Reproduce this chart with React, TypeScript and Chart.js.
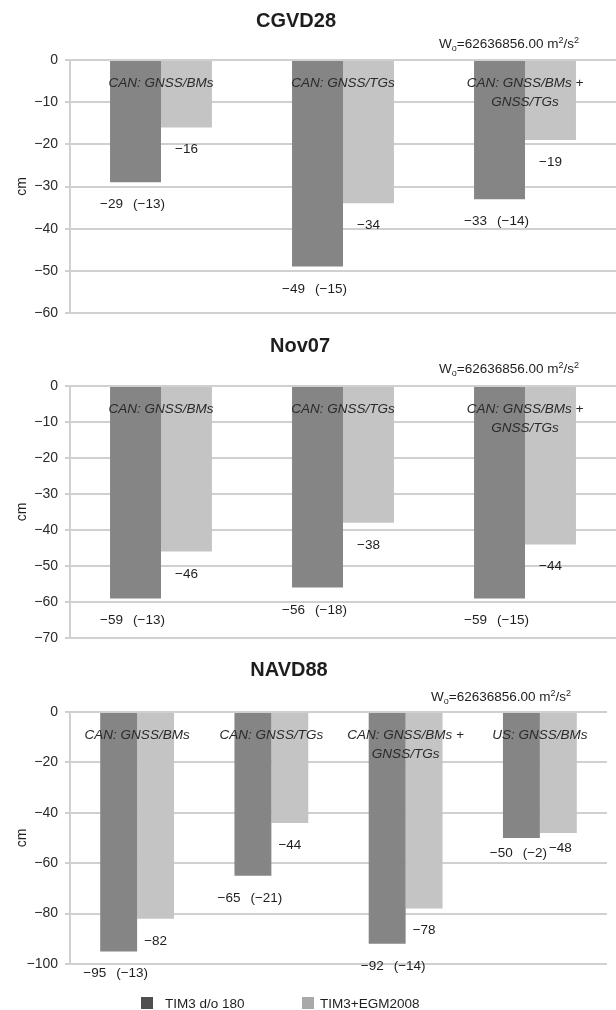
import { useEffect, useRef } from "react";
import { Chart, registerables } from "chart.js";

Chart.register(...registerables);

// ---------- DATA ----------
const seriesNames = ["TIM3 d/o 180", "TIM3+EGM2008"];
const seriesColors = ["#858585", "#c4c4c4"];
const legendColors = ["#4f4f4f", "#a9a9a9"];
const potentialValue = "62636856.00";

const canadaCategories = [["CAN: GNSS/BMs"], ["CAN: GNSS/TGs"], ["CAN: GNSS/BMs +", "GNSS/TGs"]];

const cgvdTitle = "CGVD28";
const cgvdTim3 = [-29, -49, -33];
const cgvdTim3Paren = [-13, -15, -14];
const cgvdEgm = [-16, -34, -19];
const cgvdAxis = { min: -60, max: 0, step: 10 };

const novTitle = "Nov07";
const novTim3 = [-59, -56, -59];
const novTim3Paren = [-13, -18, -15];
const novEgm = [-46, -38, -44];
const novAxis = { min: -70, max: 0, step: 10 };

const navdTitle = "NAVD88";
const navdCategories = [["CAN: GNSS/BMs"], ["CAN: GNSS/TGs"], ["CAN: GNSS/BMs +", "GNSS/TGs"], ["US: GNSS/BMs"]];
const navdTim3 = [-95, -65, -92, -50];
const navdTim3Paren = [-13, -21, -14, -2];
const navdEgm = [-82, -44, -78, -48];
const navdAxis = { min: -100, max: 0, step: 20 };

// ---------- HELPERS ----------
const FONT = "'Liberation Sans', Arial, Helvetica, sans-serif";
const TEXT = "#1e1e1e";
const fmt = (v: number) => (v < 0 ? "\u2212" + Math.abs(v) : String(v));

type PanelCfg = {
  title: string;
  titleX: number;
  titleY: number;
  wY: number;
  wRightInset: number;
  categories: string[][];
  tim3: number[];
  paren: number[];
  egm: number[];
  axis: { min: number; max: number; step: number };
  width: number;
  height: number;
  padding: { top: number; bottom: number; left: number; right: number };
  catPct: number;
  nudges: Record<string, [number, number]>;
  legendY?: number;
};

function makePlugin(cfg: PanelCfg) {
  return {
    id: "panelText",
    afterDatasetsDraw(chart: any) {
      const ctx = chart.ctx as CanvasRenderingContext2D;
      const area = chart.chartArea;
      const xs = chart.scales.x;
      ctx.save();
      ctx.fillStyle = TEXT;

      // title
      ctx.font = `bold 20px ${FONT}`;
      ctx.textAlign = "center";
      ctx.textBaseline = "alphabetic";
      ctx.fillText(cfg.title, cfg.titleX, cfg.titleY + 7.2);

      // W_o annotation
      const big = `13.5px ${FONT}`;
      const small = `9px ${FONT}`;
      const parts: [string, string, number][] = [
        ["W", big, 0],
        ["o", small, 3],
        ["=" + potentialValue + " m", big, 0],
        ["2", small, -5],
        ["/s", big, 0],
        ["2", small, -5],
      ];
      let total = 0;
      const widths = parts.map(([t, f]) => {
        ctx.font = f;
        const w = ctx.measureText(t).width;
        total += w;
        return w;
      });
      let x = area.right - cfg.wRightInset - total;
      const base = cfg.wY + 4.8;
      ctx.textAlign = "left";
      parts.forEach(([t, f, dy], i) => {
        ctx.font = f;
        ctx.fillText(t, x, base + dy);
        x += widths[i];
      });

      // category labels inside the plot
      ctx.font = `italic 13.5px ${FONT}`;
      ctx.fillStyle = "#2a2a2a";
      ctx.textAlign = "center";
      cfg.categories.forEach((lines, i) => {
        const cx = xs.getPixelForValue(i);
        lines.forEach((line, k) => {
          ctx.fillText(line, cx, area.top + 22 + k * 19 + 4.9);
        });
      });

      // value labels
      ctx.fillStyle = TEXT;
      ctx.font = `13.5px ${FONT}`;
      const m0 = chart.getDatasetMeta(0);
      const m1 = chart.getDatasetMeta(1);
      m0.data.forEach((el: any, i: number) => {
        const [dx, dy] = cfg.nudges[`0-${i}`] || [0, 0];
        const a = fmt(cfg.tim3[i]);
        const b = "(" + fmt(cfg.paren[i]) + ")";
        const wa = ctx.measureText(a).width;
        const wb = ctx.measureText(b).width;
        const gap = 10;
        const tot = wa + gap + wb;
        const sx = el.x - 3 + dx - tot / 2;
        const y = el.y + 21 + dy + 4.9;
        ctx.textAlign = "left";
        ctx.fillText(a, sx, y);
        ctx.fillText(b, sx + wa + gap, y);
      });
      m1.data.forEach((el: any, i: number) => {
        const [dx, dy] = cfg.nudges[`1-${i}`] || [0, 0];
        ctx.textAlign = "center";
        ctx.fillText(fmt(cfg.egm[i]), el.x + dx, el.y + 21 + dy + 4.9);
      });

      // legend
      if (cfg.legendY !== undefined) {
        const boxX = [141, 302];
        const textX = [165, 320];
        ctx.font = `13.5px ${FONT}`;
        ctx.textAlign = "left";
        seriesNames.forEach((name, i) => {
          ctx.fillStyle = legendColors[i];
          ctx.fillRect(boxX[i], cfg.legendY! - 6, 12, 12);
          ctx.fillStyle = TEXT;
          ctx.fillText(name, textX[i], cfg.legendY! + 4.9);
        });
      }
      ctx.restore();
    },
  };
}

function Panel({ cfg, top }: { cfg: PanelCfg; top: number }) {
  const ref = useRef<HTMLCanvasElement | null>(null);
  useEffect(() => {
    if (!ref.current) return;
    const chart = new Chart(ref.current, {
      type: "bar",
      data: {
        labels: cfg.categories.map((c) => c.join(" ")),
        datasets: [
          {
            label: seriesNames[0],
            data: cfg.tim3,
            backgroundColor: seriesColors[0],
            borderWidth: 0,
            barPercentage: 1,
            categoryPercentage: cfg.catPct,
          },
          {
            label: seriesNames[1],
            data: cfg.egm,
            backgroundColor: seriesColors[1],
            borderWidth: 0,
            barPercentage: 1,
            categoryPercentage: cfg.catPct,
          },
        ],
      },
      options: {
        responsive: false,
        animation: false,
        devicePixelRatio: 1,
        layout: { padding: cfg.padding },
        plugins: {
          legend: { display: false },
          title: { display: false },
          tooltip: { enabled: false },
        },
        scales: {
          x: { display: false },
          y: {
            min: cfg.axis.min,
            max: cfg.axis.max,
            afterFit: (scale: any) => {
              scale.width = 70;
            },
            ticks: {
              stepSize: cfg.axis.step,
              padding: 7,
              color: "#2a2a2a",
              font: { family: FONT, size: 14 },
              callback: (v: any) => fmt(Number(v)),
            },
            grid: {
              color: "#d0d0d0",
              lineWidth: 2,
              tickLength: 5,
              drawTicks: true,
            },
            border: { display: true, color: "#d0d0d0", width: 2 },
            title: {
              display: true,
              text: "cm",
              color: TEXT,
              font: { family: FONT, size: 14 },
              padding: { top: 14, bottom: 0 },
            },
          },
        },
      } as any,
      plugins: [makePlugin(cfg)],
    });
    return () => chart.destroy();
  }, [cfg]);
  return (
    <div style={{ position: "absolute", left: 0, top, width: cfg.width, height: cfg.height }}>
      <canvas ref={ref} width={cfg.width} height={cfg.height} style={{ display: "block" }} />
    </div>
  );
}

const cgvdCfg: PanelCfg = {
  title: cgvdTitle,
  titleX: 296,
  titleY: 20,
  wY: 43,
  wRightInset: 37,
  categories: canadaCategories,
  tim3: cgvdTim3,
  paren: cgvdTim3Paren,
  egm: cgvdEgm,
  axis: cgvdAxis,
  width: 616,
  height: 330,
  padding: { top: 60, bottom: 17, left: 0, right: 0 },
  catPct: 0.56,
  nudges: {},
};

const novCfg: PanelCfg = {
  title: novTitle,
  titleX: 300,
  titleY: 19.5,
  wY: 43,
  wRightInset: 37,
  categories: canadaCategories,
  tim3: novTim3,
  paren: novTim3Paren,
  egm: novEgm,
  axis: novAxis,
  width: 616,
  height: 330,
  padding: { top: 61, bottom: 17, left: 0, right: 0 },
  catPct: 0.56,
  nudges: {},
};

const navdCfg: PanelCfg = {
  title: navdTitle,
  titleX: 289,
  titleY: 28.5,
  wY: 56,
  wRightInset: 36,
  categories: navdCategories,
  tim3: navdTim3,
  paren: navdTim3Paren,
  egm: navdEgm,
  axis: navdAxis,
  width: 616,
  height: 370,
  padding: { top: 72, bottom: 46, left: 0, right: 9 },
  catPct: 0.55,
  nudges: { "0-2": [9, 0], "0-3": [0, -7], "1-3": [2, -7] },
  legendY: 363,
};

export default function App() {
  return (
    <div style={{ position: "absolute", left: 0, top: 0, width: 616, height: 1010, background: "#fff" }}>
      <Panel cfg={cgvdCfg} top={0} />
      <Panel cfg={novCfg} top={325} />
      <Panel cfg={navdCfg} top={640} />
    </div>
  );
}
